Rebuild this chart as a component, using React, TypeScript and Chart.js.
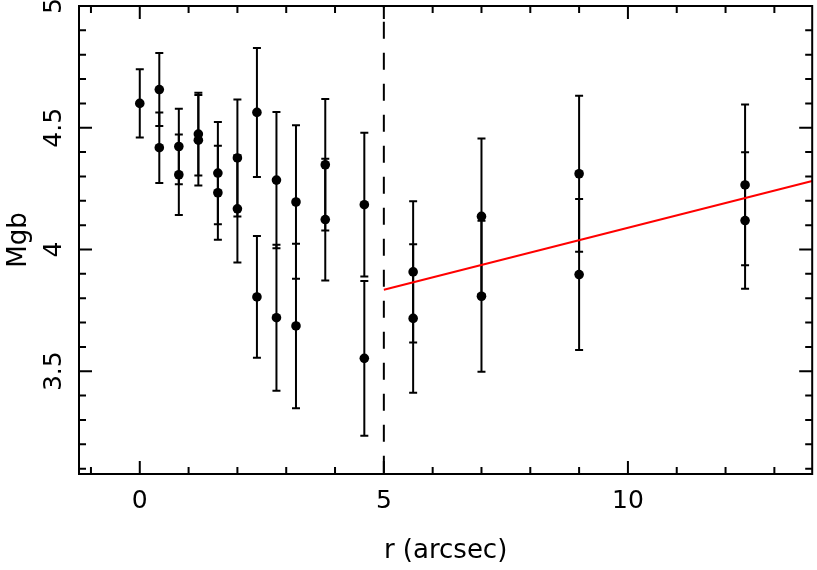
import React, { useEffect, useRef } from "react";
import { Chart, registerables } from "chart.js";

Chart.register(...registerables);

// ---- data ----
const radius = [0, 0.4, 0.4, 0.8, 0.8, 1.2, 1.2, 1.6, 1.6, 2.0, 2.0, 2.4, 2.4, 2.8, 2.8, 3.2, 3.2, 3.8, 3.8, 4.6, 4.6, 5.6, 5.6, 7.0, 7.0, 9.0, 9.0, 12.4, 12.4];
const mgb = [4.60, 4.657, 4.418, 4.423, 4.307, 4.474, 4.449, 4.314, 4.233, 4.376, 4.167, 4.563, 3.805, 4.285, 3.72, 4.195, 3.686, 4.348, 4.123, 4.184, 3.553, 3.908, 3.717, 4.136, 3.808, 4.311, 3.897, 4.265, 4.119];
const mgbErr = [0.14, 0.15, 0.145, 0.155, 0.165, 0.17, 0.186, 0.21, 0.193, 0.24, 0.22, 0.265, 0.25, 0.28, 0.3, 0.315, 0.338, 0.27, 0.25, 0.295, 0.318, 0.29, 0.305, 0.32, 0.31, 0.32, 0.31, 0.33, 0.28];

const fitX = [5, 13.775];
const fitY = [3.835, 4.281];

const cutX = [5, 5];
const cutY = [5.0, 3.078];

const xTickValues = [0, 5, 10];
const yTickValues = [3.5, 4, 4.5, 5];

const X_MIN = -1.245;
const X_MAX = 13.775;
const Y_MIN = 3.078;
const Y_MAX = 5.0;

const FONT = { family: "'DejaVu Sans', sans-serif", size: 25 };
const TITLE_FONT = { family: "'DejaVu Sans', sans-serif", size: 26 };

const errorBarPlugin = {
  id: "errorBars",
  beforeDatasetsDraw(chart: any) {
    const { ctx, scales } = chart;
    const xs = scales.x;
    const ys = scales.y;
    ctx.save();
    ctx.strokeStyle = "#000";
    ctx.lineWidth = 2;
    for (let i = 0; i < radius.length; i++) {
      const px = xs.getPixelForValue(radius[i]);
      const top = ys.getPixelForValue(mgb[i] + mgbErr[i]);
      const bot = ys.getPixelForValue(mgb[i] - mgbErr[i]);
      ctx.beginPath();
      ctx.moveTo(px, top);
      ctx.lineTo(px, bot);
      ctx.moveTo(px - 4, top);
      ctx.lineTo(px + 4, top);
      ctx.moveTo(px - 4, bot);
      ctx.lineTo(px + 4, bot);
      ctx.stroke();
    }
    ctx.restore();
  },
};

const framePlugin = {
  id: "frame",
  afterDraw(chart: any) {
    const { ctx, chartArea, scales } = chart;
    const { left, right, top, bottom } = chartArea;
    const xs = scales.x;
    const ys = scales.y;
    ctx.save();
    ctx.strokeStyle = "#000";
    ctx.lineWidth = 2;
    ctx.strokeRect(left, top, right - left, bottom - top);
    ctx.beginPath();
    // x ticks (minor every 1, major every 5)
    for (let v = Math.ceil(X_MIN); v <= X_MAX; v++) {
      const px = xs.getPixelForValue(v);
      const len = v % 5 === 0 ? 13 : 7;
      ctx.moveTo(px, bottom);
      ctx.lineTo(px, bottom - len);
      ctx.moveTo(px, top);
      ctx.lineTo(px, top + len);
    }
    // y ticks (minor every 0.1, major every 0.5)
    for (let k = Math.ceil(Y_MIN * 10 - 1e-6); k <= Math.round(Y_MAX * 10); k++) {
      const py = ys.getPixelForValue(k / 10);
      const len = k % 5 === 0 ? 13 : 7;
      ctx.moveTo(left, py);
      ctx.lineTo(left + len, py);
      ctx.moveTo(right, py);
      ctx.lineTo(right - len, py);
    }
    ctx.stroke();
    ctx.restore();
  },
};

const zeroPad = (s: any) => {
  s.paddingTop = 0;
  s.paddingBottom = 0;
  s.paddingLeft = 0;
  s.paddingRight = 0;
};

export default function App() {
  const canvasRef = useRef<HTMLCanvasElement | null>(null);

  useEffect(() => {
    const canvas = canvasRef.current;
    if (!canvas) return;
    const chart = new Chart(canvas, {
      type: "scatter",
      data: {
        datasets: [
          {
            type: "line",
            data: cutX.map((x, i) => ({ x, y: cutY[i] })),
            borderColor: "#000",
            borderWidth: 2,
            borderDash: [17, 14],
            borderDashOffset: 15.3,
            pointRadius: 0,
            fill: false,
          } as any,
          {
            type: "line",
            data: fitX.map((x, i) => ({ x, y: fitY[i] })),
            borderColor: "#ff0000",
            borderWidth: 2,
            pointRadius: 0,
            fill: false,
          } as any,
          {
            data: radius.map((x, i) => ({ x, y: mgb[i] })),
            backgroundColor: "#000",
            borderWidth: 0,
            pointRadius: 4.8,
          },
        ],
      },
      options: {
        animation: false,
        responsive: false,
        events: [],
        layout: { padding: { top: 6, right: 2.5, left: 0, bottom: 0 } },
        plugins: {
          legend: { display: false },
          tooltip: { enabled: false },
        },
        scales: {
          x: {
            type: "linear",
            min: X_MIN,
            max: X_MAX,
            afterBuildTicks: (s: any) => {
              s.ticks = xTickValues.map((v) => ({ value: v }));
            },
            afterFit: (s: any) => {
              s.height = 96;
              zeroPad(s);
            },
            grid: { display: false, drawTicks: false },
            border: { display: false },
            ticks: {
              font: FONT,
              color: "#000",
              padding: 12,
              maxRotation: 0,
              autoSkip: false,
              callback: (v: any) => String(v),
            },
            title: {
              display: true,
              text: "r (arcsec)",
              font: TITLE_FONT,
              color: "#000",
              padding: { top: 0, bottom: 3 },
            },
          },
          y: {
            type: "linear",
            min: Y_MIN,
            max: Y_MAX,
            afterBuildTicks: (s: any) => {
              s.ticks = yTickValues.map((v) => ({ value: v }));
            },
            afterFit: (s: any) => {
              s.width = 79;
              zeroPad(s);
            },
            grid: { display: false, drawTicks: false },
            border: { display: false },
            ticks: {
              font: FONT,
              color: "#000",
              padding: 5,
              minRotation: 90,
              maxRotation: 90,
              crossAlign: "center",
              autoSkip: false,
              callback: (v: any) => String(v),
            },
            title: {
              display: true,
              text: "Mgb",
              font: TITLE_FONT,
              color: "#000",
              padding: { top: 4, bottom: 0 },
            },
          },
        },
      } as any,
      plugins: [errorBarPlugin, framePlugin],
    });
    return () => chart.destroy();
  }, []);

  return (
    <div style={{ position: "absolute", left: 0, top: 0, width: 817, height: 570, background: "#fff" }}>
      <canvas ref={canvasRef} width={817} height={570} style={{ display: "block" }} />
    </div>
  );
}
